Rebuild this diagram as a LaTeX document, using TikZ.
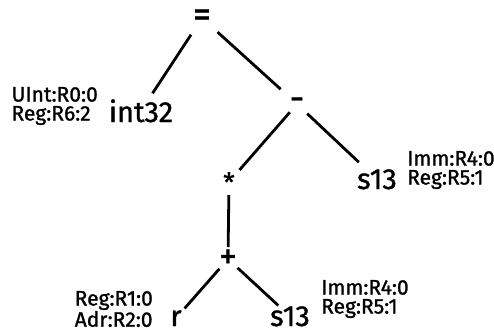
\documentclass[tikz,border=0pt]{standalone}
\usepackage{fontspec}
\setmainfont{Fira Sans}[FakeBold=1.2]
\usetikzlibrary{positioning}
\tikzset{
  op/.style={font=\fontsize{36}{36}\selectfont, inner sep=0pt},
  leaf/.style={font=\fontsize{29}{29}\selectfont, inner sep=0pt, anchor=base},
  lab/.style={font=\fontsize{21}{19}\selectfont, inner sep=0pt, align=left},
  edge/.style={line width=2.8pt},
}
\begin{document}
\begin{tikzpicture}[x=1pt, y=-1pt]
\useasboundingbox (0,0) rectangle (494,333);
%---- operators
\node[op] (eq) at (202,18) {=};
\node[op] (minus) at (297,104) {-};
\node[op, font=\fontsize{26}{26}\selectfont] (times) at (229,182) {*};
\node[op] (plus) at (228,259) {+};
%---- leaves
\node[leaf] (intn) at (141,122) {int32};
\node[leaf] (s13a) at (377,189) {s13};
\node[leaf] (rn) at (176,326) {r};
\node[leaf] (s13b) at (290,326) {s13};
%---- annotations
\node[lab, anchor=east] (lint) at (98,106) {UInt:R0:0\\Reg:R6:2};
\node[lab, anchor=west] (ls13a) at (407,170) {Imm:R4:0\\Reg:R5:1};
\node[lab, anchor=east] (lrn) at (153,309) {Reg:R1:0\\Adr:R2:0};
\node[lab, anchor=west] (ls13b) at (321,299) {Imm:R4:0\\Reg:R5:1};
%---- tree edges
\draw[edge, shorten <=20pt, shorten >=21pt] (eq.center) -- (intn.center);
\draw[edge, shorten <=21pt, shorten >=22pt] (eq.center) -- (minus.center);
\draw[edge, shorten <=11pt, shorten >=16pt] (minus.center) -- (times.center);
\draw[edge, shorten <=14pt, shorten >=25pt] (minus.center) -- (s13a.center);
\draw[edge, shorten <=13pt, shorten >=12pt] (times.center) -- (plus.center);
\draw[edge, shorten <=13pt, shorten >=13pt] (plus.center) -- (rn.center);
\draw[edge, shorten <=13pt, shorten >=16pt] (plus.center) -- (s13b.center);
\end{tikzpicture}
\end{document}
